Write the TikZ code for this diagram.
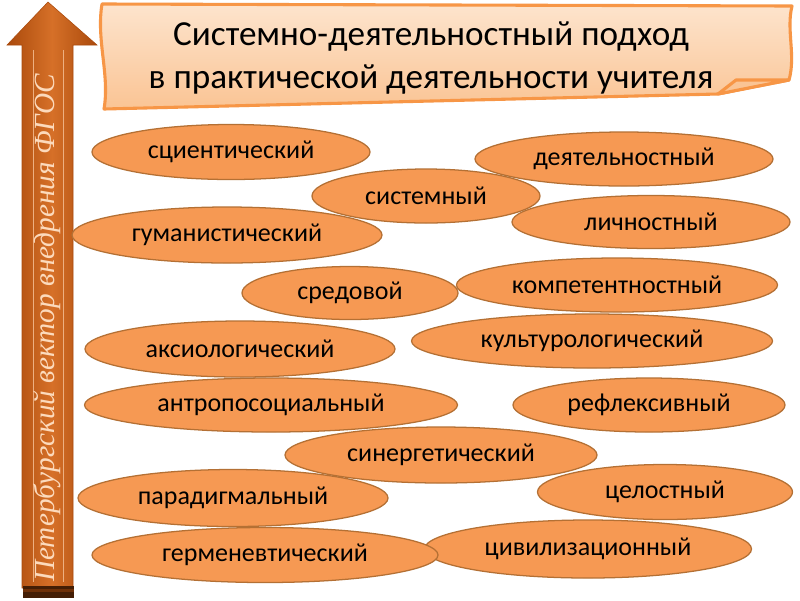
\documentclass[tikz,border=0pt]{standalone}
\usepackage{fontspec}
\setmainfont{Carlito}
\newfontfamily\vectorfont{Liberation Serif}
\usetikzlibrary{shapes.geometric}
\definecolor{approachfill}{RGB}{246,153,83}
\definecolor{approachline}{RGB}{180,112,52}
\definecolor{scrollline}{RGB}{247,150,70}
\definecolor{scrolltop}{RGB}{253,228,205}
\definecolor{scrollbot}{RGB}{250,196,148}
\definecolor{vecdark}{RGB}{170,74,12}
\definecolor{vecmid}{RGB}{214,112,40}
\definecolor{vectext}{RGB}{252,218,188}
\tikzset{
  approach/.style={ellipse, draw=approachline, line width=0.9pt, fill=approachfill,
    inner sep=0pt, font=\fontsize{18.5}{20}\selectfont},
  oval/.style 2 args={minimum width=#1*0.025cm, minimum height=#2*0.025cm},
}
\begin{document}
\begin{tikzpicture}[x=0.025cm, y=-0.025cm]
\useasboundingbox (0,0) rectangle (800,600);
\fill[white] (0,0) rectangle (800,600);
\shade[left color=vecdark, right color=vecdark, middle color=vecmid, draw=vecdark]
  (22,588) -- (22,45) -- (7,45) -- (48,2) -- (97,45) -- (73,45) -- (73,588) -- cycle;
\draw[vectext!60!vecmid, line width=0.6pt] (33,582) -- (33,50) (63,50) -- (63,582);
\fill[black!60!vecdark] (23,586) rectangle (74,598);
\fill[black!35!vecdark] (23,589) rectangle (74,592);
\node[rotate=90, text=vectext, font=\vectorfont\itshape\fontsize{20.8}{22}\selectfont] (vector) at (47,328)
  {Петербургский вектор внедрения ФГОС};
\draw[top color=scrolltop, bottom color=scrollbot, draw=scrollline, line width=2.2pt, line join=round]
  (102,4) -- (792,6) .. controls (786,30) and (796,55) .. (789,80)
  -- (718,94) -- (104,109) .. controls (110,75) and (96,40) .. cycle;
\draw[fill=scrollbot, draw=scrollline, line width=2.2pt, line join=round]
  (718,94) -- (736,80) -- (789,80) -- cycle;
\node[font=\fontsize{25}{30}\selectfont, align=center] (title) at (431,58)
  {Системно-деятельностный подход\\в практической деятельности учителя};
\node[approach, oval={278}{55}] (sci)  at (231,152) {сциентический};
\node[approach, oval={298}{54}] (act)  at (624,159) {деятельностный};
\node[approach, oval={228}{54}] (sys)  at (426,196) {системный};
\node[approach, oval={310}{56}] (hum)  at (227,235) {гуманистический};
\node[approach, oval={278}{53}] (pers) at (651,222) {личностный};
\node[approach, oval={216}{53}] (env)  at (350,293) {средовой};
\node[approach, oval={321}{54}] (comp) at (617,285) {компетентностный};
\node[approach, oval={310}{56}] (axi)  at (240,349) {аксиологический};
\node[approach, oval={361}{54}] (cult) at (592,341) {культурологический};
\node[approach, oval={373}{54}] (anth) at (271,405) {антропосоциальный};
\node[approach, oval={272}{54}] (refl) at (649,405) {рефлексивный};
\node[approach, oval={312}{56}] (syn)  at (441,455) {синергетический};
\node[approach, oval={255}{55}] (whole) at (665,492) {целостный};
\node[approach, oval={310}{57}] (para) at (233,498) {парадигмальный};
\node[approach, oval={327}{58}] (civ)  at (588,549) {цивилизационный};
\node[approach, oval={346}{55}] (herm) at (265,555) {герменевтический};
\end{tikzpicture}
\end{document}
